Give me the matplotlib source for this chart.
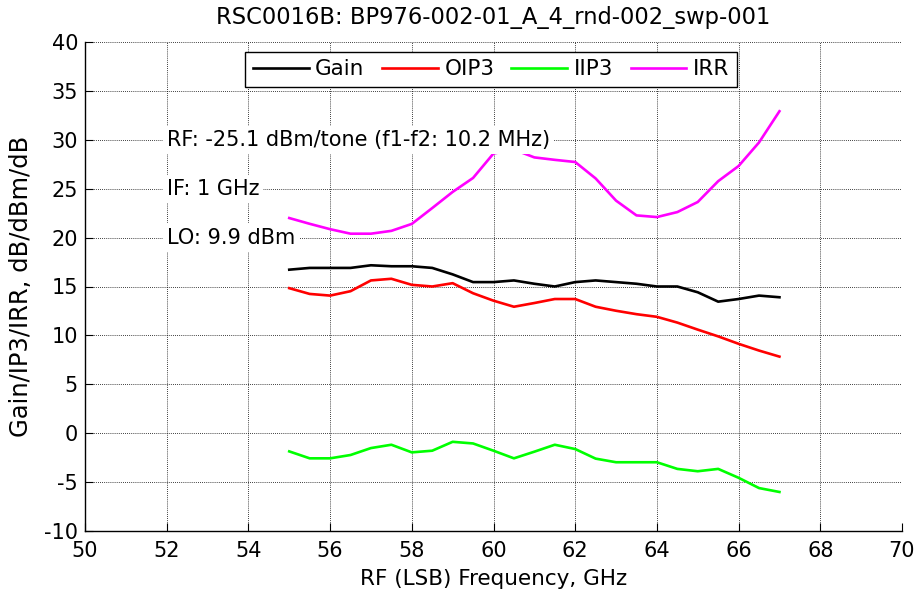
import matplotlib
matplotlib.use("Agg")
import matplotlib.pyplot as plt
import numpy as np

plt.rcParams['font.family'] = ['DejaVu Sans']
plt.rcParams['axes.unicode_minus'] = False

freq = [55, 55.5, 56, 56.5, 57, 57.5, 58, 58.5, 59, 59.5, 60, 60.5, 61,
        61.5, 62, 62.5, 63, 63.5, 64, 64.5, 65, 65.5, 66, 66.5, 67]
gain = [16.72, 16.9, 16.9, 16.9, 17.17, 17.07, 17.07, 16.9, 16.24, 15.45,
        15.45, 15.62, 15.28, 15.0, 15.45, 15.62, 15.45, 15.28, 15.0, 15.0,
        14.41, 13.45, 13.72, 14.07, 13.9]
oip3 = [14.83, 14.24, 14.07, 14.52, 15.62, 15.79, 15.17, 15.0, 15.34, 14.31,
        13.55, 12.93, 13.31, 13.72, 13.72, 12.93, 12.52, 12.17, 11.9, 11.31,
        10.59, 9.9, 9.14, 8.45, 7.83]
iip3 = [-1.86, -2.57, -2.57, -2.23, -1.52, -1.18, -1.96, -1.79, -0.88, -1.05,
        -1.79, -2.57, -1.89, -1.18, -1.62, -2.6, -2.97, -2.97, -2.97, -3.65,
        -3.89, -3.65, -4.56, -5.61, -6.01]
irr = [22.0, 21.41, 20.86, 20.4, 20.4, 20.69, 21.4, 23.02, 24.67, 26.1,
       28.6, 29.0, 28.2, 27.95, 27.73, 26.05, 23.78, 22.27, 22.1, 22.61,
       23.64, 25.77, 27.32, 29.73, 32.92]

series = [("Gain", gain, "#000000"), ("OIP3", oip3, "#ff0000"),
          ("IIP3", iip3, "#00ff00"), ("IRR", irr, "#ff00ff")]

title = "RSC0016B: BP976-002-01_A_4_rnd-002_swp-001"
notes = ["RF: -25.1 dBm/tone (f1-f2: 10.2 MHz)", "IF: 1 GHz", "LO: 9.9 dBm"]
note_y = [30, 25, 20]

fig = plt.figure(figsize=(9.16, 5.96), dpi=100)
ax = fig.add_axes([85/916, 1-531/596, 817/916, 489/596])

for name, vals, col in series:
    ax.plot(freq, vals, color=col, lw=1.9, label=name, zorder=3)

ax.set_xlim(50, 70)
ax.set_ylim(-10, 40)
ax.set_xticks(np.arange(50, 71, 2))
ax.set_yticks(np.arange(-10, 41, 5))
ax.grid(True, color='black', linestyle=(0, (1, 1.5)), linewidth=0.6)
ax.set_axisbelow(True)
for s in ['top', 'right']:
    ax.spines[s].set_visible(False)
ax.spines['left'].set_linewidth(1.0)
ax.spines['bottom'].set_linewidth(1.0)
ax.tick_params(direction='in', length=6, labelsize=15, width=0.8)
ax.tick_params(axis='x', pad=7)
ax.tick_params(axis='y', pad=5)

ax.set_title(title, fontsize=16.3, pad=13)
ax.set_xlabel("RF (LSB) Frequency, GHz", fontsize=15.5, labelpad=6)
ax.set_ylabel("Gain/IP3/IRR, dB/dBm/dB", fontsize=17.5, labelpad=8)

for t, y in zip(notes, note_y):
    ax.text(52, y, t, fontsize=15, ha='left', va='center', zorder=5,
            bbox=dict(facecolor='white', edgecolor='none', pad=3))

leg = ax.legend(loc='upper center', bbox_to_anchor=(0.497, 0.98), ncol=4,
                fontsize=15.5, frameon=True, fancybox=False, handlelength=2.6,
                columnspacing=0.8, handletextpad=0.3, borderpad=0.35,
                borderaxespad=0)
leg.get_frame().set_edgecolor('black')
leg.get_frame().set_linewidth(1.0)
leg.get_frame().set_alpha(1)
leg.set_zorder(10)

fig.savefig("out.png", dpi=100)
